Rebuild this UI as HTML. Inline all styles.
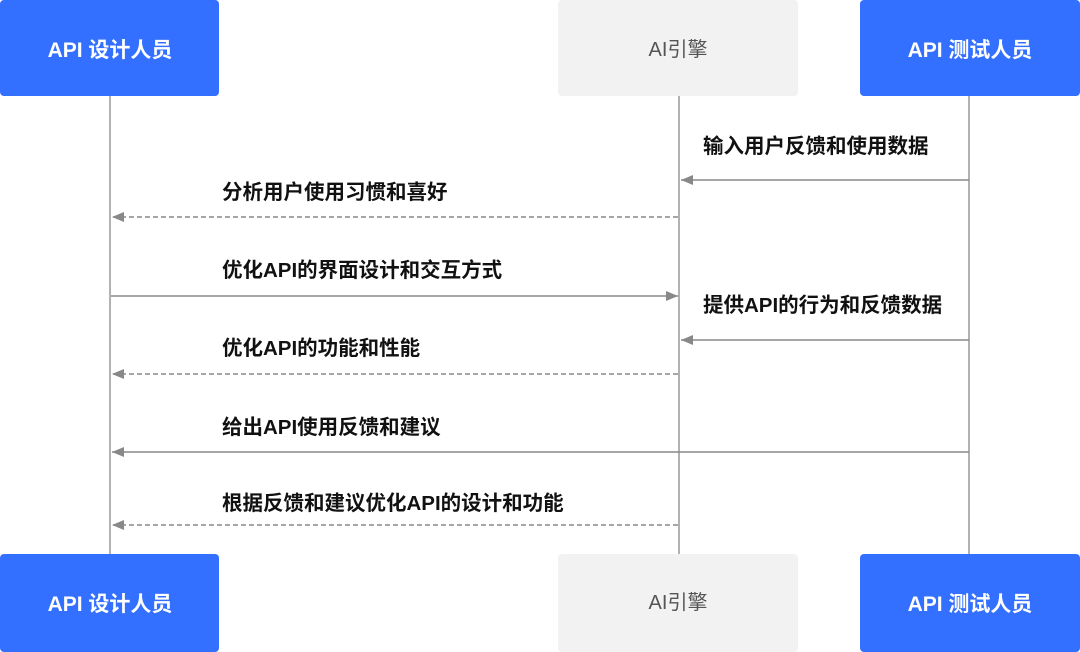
<!DOCTYPE html>
<html><head><meta charset="utf-8"><style>
html,body{margin:0;padding:0;background:#fff;}
svg{display:block}
text{font-family:"Liberation Sans","Noto Sans CJK SC",sans-serif;}
</style></head><body>
<svg width="1080" height="652" viewBox="0 0 1080 652" xmlns="http://www.w3.org/2000/svg">
<defs>
<marker id="a" markerWidth="12" markerHeight="10" refX="12" refY="5" orient="auto" markerUnits="userSpaceOnUse">
<path d="M0,0 L12,5 L0,10 z" fill="#888"/></marker>
</defs>
<g stroke="#999" stroke-width="1.5">
<line x1="110" y1="96" x2="110" y2="554"/>
<line x1="679" y1="96" x2="679" y2="554"/>
<line x1="969" y1="96" x2="969" y2="554"/>
</g>
<rect x="0" y="0" width="219" height="96" rx="4" fill="#3370ff"/>
<rect x="558" y="0" width="240" height="96" rx="4" fill="#f2f2f2"/>
<rect x="860" y="0" width="220" height="96" rx="4" fill="#3370ff"/>
<rect x="0" y="554" width="219" height="98" rx="4" fill="#3370ff"/>
<rect x="558" y="554" width="240" height="98" rx="4" fill="#f2f2f2"/>
<rect x="860" y="554" width="220" height="98" rx="4" fill="#3370ff"/>
<g font-size="21" font-weight="bold" fill="#fff" text-anchor="middle">
<text x="110" y="57">API 设计人员</text>
<text x="970" y="57">API 测试人员</text>
<text x="110" y="611">API 设计人员</text>
<text x="970" y="611">API 测试人员</text>
</g>
<g font-size="20" fill="#555" text-anchor="middle">
<text x="678" y="56">AI引擎</text>
<text x="678" y="609">AI引擎</text>
</g>
<g stroke="#888" stroke-width="1.5" fill="none" marker-end="url(#a)">
<line x1="969" y1="180" x2="681" y2="180"/>
<line x1="678" y1="217" x2="112" y2="217" stroke-dasharray="5,3"/>
<line x1="111" y1="296" x2="678" y2="296"/>
<line x1="969" y1="340" x2="681" y2="340"/>
<line x1="678" y1="374" x2="112" y2="374" stroke-dasharray="5,3"/>
<line x1="969" y1="452" x2="112" y2="452"/>
<line x1="678" y1="525" x2="112" y2="525" stroke-dasharray="5,3"/>
</g>
<g font-size="20.5" font-weight="bold" fill="#111">
<text x="703" y="153">输入用户反馈和使用数据</text>
<text x="222" y="199">分析用户使用习惯和喜好</text>
<text x="222" y="277">优化API的界面设计和交互方式</text>
<text x="703" y="312">提供API的行为和反馈数据</text>
<text x="222" y="355">优化API的功能和性能</text>
<text x="222" y="434">给出API使用反馈和建议</text>
<text x="222" y="510">根据反馈和建议优化API的设计和功能</text>
</g>
</svg>
</body></html>
